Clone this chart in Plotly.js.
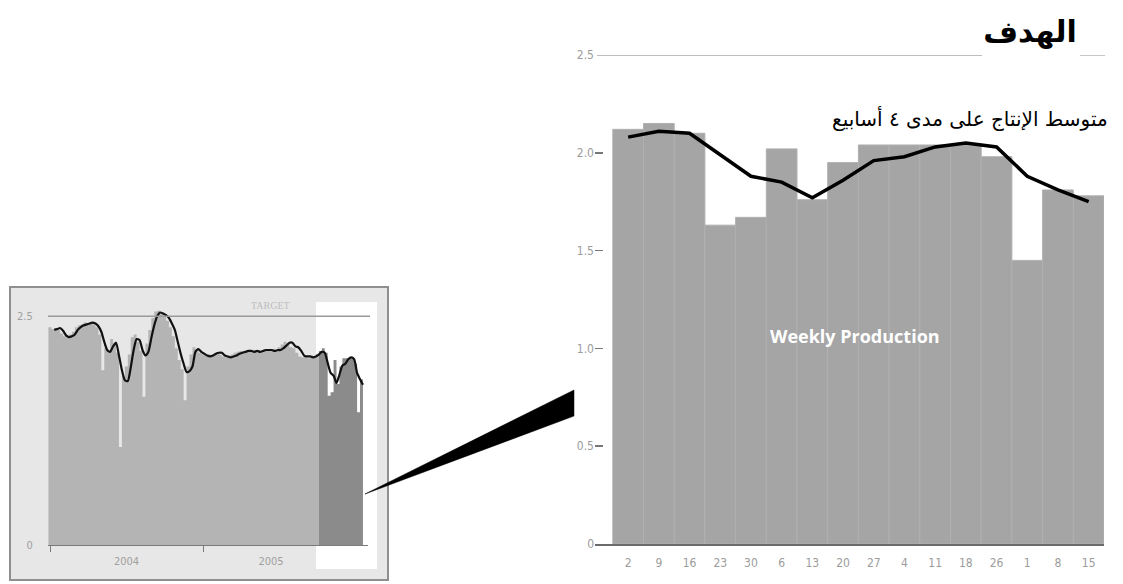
<!DOCTYPE html>
<html>
<head>
<meta charset="utf-8">
<script src="https://cdn.plot.ly/plotly-3.0.1.min.js"></script>
<style>html,body{margin:0;padding:0;background:#fff;}#chart{width:1123px;height:584px;}</style>
</head>
<body>
<div id="chart"></div>
<script>
// ---------- data: detailed chart (last 16 weeks) ----------
const weekLabels = ["2","9","16","23","30","6","13","20","27","4","11","18","26","1","8","15"];
const weeklyProduction = [2.12, 2.15, 2.10, 1.63, 1.67, 2.02, 1.76, 1.95, 2.04, 2.04, 2.04, 2.04, 1.98, 1.45, 1.81, 1.78];
const fourWeekAverage = [2.08, 2.11, 2.10, 1.99, 1.88, 1.85, 1.77, 1.86, 1.96, 1.98, 2.03, 2.05, 2.03, 1.88, 1.81, 1.75];
const targetValue = 2.5;
const yTickVals = [0, 0.5, 1.0, 1.5, 2.0, 2.5];
const yTickText = ["0", "0.5", "1.0", "1.5", "2.0", "2.5"];

// ---------- data: overview inset (weekly, earlier weeks) ----------
const overviewStart = "2003-12-28";
const earlierWeekly = [2.38, 2.36, 2.37, 2.35, 2.31, 2.28, 2.26, 2.30, 2.33, 2.38,
  2.40, 2.41, 2.43, 2.42, 2.44, 2.41, 2.38, 2.30, 1.91, 2.15,
  2.12, 2.25, 2.20, 2.10, 1.07, 1.85, 1.95, 2.08, 2.27, 2.30,
  2.22, 2.12, 1.62, 2.20, 2.35, 2.48, 2.55, 2.56, 2.52, 2.50,
  2.45, 2.38, 2.28, 2.15, 2.02, 1.92, 1.58, 1.95, 2.08, 2.16,
  2.12, 2.10, 2.08, 2.07, 2.08, 2.06, 2.09, 2.10, 2.08, 2.06,
  2.05, 2.07, 2.08, 2.10, 2.11, 2.12, 2.11, 2.12, 2.13, 2.11,
  2.12, 2.13, 2.12, 2.14, 2.13, 2.12, 2.14, 2.13, 2.16, 2.19,
  2.22, 2.20, 2.16, 2.15, 2.10, 2.06, 2.05, 2.06, 2.04, 2.07,
  2.06, 2.09];
const earlierAverage = [null, null, 2.35, 2.36, 2.37, 2.34, 2.29, 2.27, 2.28, 2.30,
  2.35, 2.38, 2.40, 2.41, 2.42, 2.43, 2.42, 2.39, 2.33, 2.22,
  2.13, 2.11, 2.17, 2.21, 2.07, 1.91, 1.80, 1.79, 1.94, 2.13,
  2.25, 2.24, 2.13, 2.07, 2.11, 2.26, 2.40, 2.50, 2.54, 2.53,
  2.51, 2.48, 2.42, 2.35, 2.22, 2.09, 1.98, 1.89, 1.90, 1.95,
  2.11, 2.14, 2.11, 2.09, 2.07, 2.06, 2.07, 2.09, 2.10, 2.10,
  2.07, 2.06, 2.05, 2.06, 2.07, 2.09, 2.10, 2.11, 2.12, 2.12,
  2.11, 2.12, 2.11, 2.12, 2.13, 2.13, 2.13, 2.12, 2.13, 2.13,
  2.15, 2.18, 2.21, 2.21, 2.17, 2.16, 2.12, 2.07, 2.06, 2.06,
  2.05, 2.06];
const insetYearLabels = ["2004", "2005"];
const insetYearLabelDates = ["2004-07-01", "2005-06-10"];
const insetYearBoundaries = ["2004-01-01", "2005-01-01"];

// ---------- build overview series ----------
const overviewWeekly = earlierWeekly.concat(weeklyProduction);
const overviewAverage = earlierAverage.concat(fourWeekAverage);
const overviewDates = [];
{
  const d0 = new Date(overviewStart + "T00:00:00Z");
  for (let i = 0; i < overviewWeekly.length; i++) {
    const d = new Date(d0.getTime() + i * 7 * 86400000);
    overviewDates.push(d.toISOString().slice(0, 10));
  }
}
const split = earlierWeekly.length;

// ---------- pixel helpers for layout ----------
const W = 1123, H = 584;
const px = v => v / W;
const py = v => 1 - v / H;

const grayFont = {family: "Liberation Sans Narrow, DejaVu Sans Condensed, sans-serif", size: 12, color: "#9c9c9c"};
const insetFont = {family: "Liberation Sans Narrow, DejaVu Sans Condensed, sans-serif", size: 11, color: "#a0a0a0"};

const traces = [
  {type: "bar", x: weekLabels, y: weeklyProduction, xaxis: "x", yaxis: "y",
   marker: {color: "#a5a5a5", line: {color: "#b0b0b0", width: 1}}, hoverinfo: "skip", showlegend: false},
  {type: "scatter", mode: "lines", x: weekLabels, y: fourWeekAverage, xaxis: "x", yaxis: "y",
   line: {color: "#000", width: 3.5}, hoverinfo: "skip", showlegend: false},
  {type: "scatter", mode: "lines", x: overviewDates.slice(0, split + 1), y: overviewWeekly.slice(0, split + 1),
   xaxis: "x2", yaxis: "y2", fill: "tozeroy", fillcolor: "#b4b4b4",
   line: {width: 0, shape: "hv", color: "#b4b4b4"}, hoverinfo: "skip", showlegend: false},
  {type: "scatter", mode: "lines", x: overviewDates.slice(split), y: overviewWeekly.slice(split),
   xaxis: "x2", yaxis: "y2", fill: "tozeroy", fillcolor: "#8b8b8b",
   line: {width: 0, shape: "hv", color: "#8b8b8b"}, hoverinfo: "skip", showlegend: false},
  {type: "scatter", mode: "lines", x: overviewDates, y: overviewAverage,
   xaxis: "x2", yaxis: "y2", line: {color: "#111", width: 2.2, shape: "spline", smoothing: 0.6},
   connectgaps: false, hoverinfo: "skip", showlegend: false}
];

const layout = {
  width: W, height: H,
  margin: {l: 0, r: 0, t: 0, b: 0},
  paper_bgcolor: "#fff", plot_bgcolor: "rgba(0,0,0,0)",
  showlegend: false,
  bargap: 0,
  title: {text: "<b>الهدف</b>", xref: "container", yref: "container",
          x: px(1030), y: py(31), xanchor: "center", yanchor: "middle",
          font: {family: "DejaVu Sans", size: 30, color: "#000"}},
  xaxis: {domain: [px(595), px(1104)], anchor: "y", type: "category",
          range: [-1.08, 15.5], showline: true, linecolor: "#6a6a6a", linewidth: 1.5,
          ticks: "outside", ticklen: 7, tickcolor: "rgba(0,0,0,0)",
          showgrid: false, zeroline: false, tickfont: grayFont, fixedrange: true},
  yaxis: {domain: [py(544), py(55)], anchor: "x", range: [0, 2.5],
          tickmode: "array", tickvals: yTickVals, ticktext: yTickText,
          ticks: "inside", ticklen: 8, tickwidth: 1.5, tickcolor: "#777",
          showline: false, showgrid: false, zeroline: false, tickfont: grayFont, fixedrange: true},
  xaxis2: {domain: [px(48), px(368)], anchor: "y2", type: "date",
           range: ["2003-12-27", "2006-01-27"],
           tickmode: "array", tickvals: insetYearLabelDates, ticktext: insetYearLabels,
           ticks: "outside", ticklen: 6, tickcolor: "rgba(0,0,0,0)",
           minor: {tickmode: "array", tickvals: insetYearBoundaries, ticks: "outside",
                   ticklen: 6, tickcolor: "#7a7a7a", tickwidth: 1, showgrid: false},
           showline: true, linecolor: "#7a7a7a", linewidth: 1.2,
           showgrid: false, zeroline: false, tickfont: insetFont, fixedrange: true},
  yaxis2: {domain: [py(545), py(307)], anchor: "x2", range: [0, 2.6],
           tickmode: "array", tickvals: [0, targetValue], ticktext: ["0", "2.5"],
           ticks: "outside", ticklen: 12, tickcolor: "rgba(0,0,0,0)",
           showline: false, showgrid: false, zeroline: false,
           tickfont: insetFont, fixedrange: true},
  shapes: [
    {type: "rect", xref: "paper", yref: "paper", x0: px(10), x1: px(388), y0: py(580), y1: py(287),
     fillcolor: "#e7e7e7", line: {color: "#8f8f8f", width: 2}, layer: "below"},
    {type: "rect", xref: "paper", yref: "paper", x0: px(316), x1: px(377), y0: py(569), y1: py(302),
     fillcolor: "#ffffff", line: {width: 0}, layer: "below"},
    {type: "line", xref: "paper", yref: "y2", x0: px(48), x1: px(370), y0: targetValue, y1: targetValue,
     line: {color: "#9a9a9a", width: 1.5}, layer: "above"},
    {type: "line", xref: "paper", yref: "y", x0: px(597), x1: px(982), y0: targetValue, y1: targetValue,
     line: {color: "#a8a8a8", width: 1.3}},
    {type: "line", xref: "paper", yref: "y", x0: px(1080), x1: px(1105), y0: targetValue, y1: targetValue,
     line: {color: "#a8a8a8", width: 1.3}},
    {type: "path", xref: "paper", yref: "paper",
     path: "M " + px(365) + "," + py(494) + " L " + px(574) + "," + py(390) + " L " + px(574) + "," + py(416) + " Z",
     fillcolor: "#000", line: {color: "#000", width: 0.5}}
  ],
  annotations: [
    {text: "متوسط الإنتاج على مدى ٤ أسابيع", xref: "paper", yref: "paper",
     x: px(1110), y: py(118), xanchor: "right", yanchor: "middle", showarrow: false,
     font: {family: "DejaVu Serif, DejaVu Sans", size: 20, color: "#000"}},
    {text: "<b>Weekly Production</b>", xref: "paper", yref: "paper",
     x: px(855), y: py(336), xanchor: "center", yanchor: "middle", showarrow: false,
     font: {family: "Open Sans, sans-serif", size: 18, color: "#ffffff"}},
    {text: "TARGET", xref: "paper", yref: "paper",
     x: px(270), y: py(305), xanchor: "center", yanchor: "middle", showarrow: false,
     font: {family: "Liberation Serif, serif", size: 10, color: "#bdbdbd"}}
  ]
};

Plotly.newPlot("chart", traces, layout, {staticPlot: true, displayModeBar: false});
</script>
</body>
</html>
